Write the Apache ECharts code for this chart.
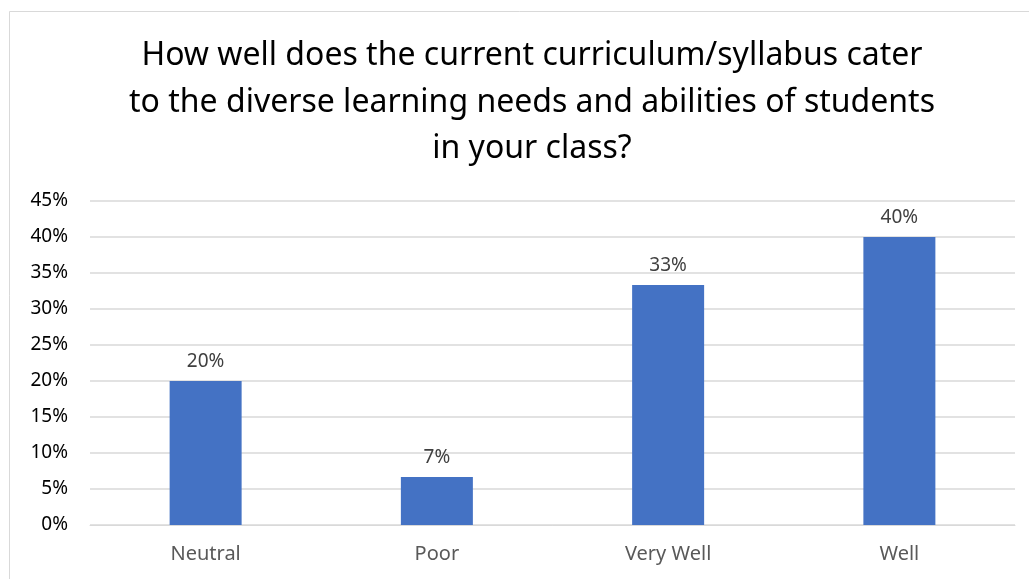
<!DOCTYPE html>
<html><head><meta charset="utf-8">
<script src="https://cdn.jsdelivr.net/npm/echarts@6/dist/echarts.min.js"></script>
<style>html,body{margin:0;padding:0;background:#fff}#c{width:1029px;height:579px}</style>
</head><body><div id="c"></div>
<script>
const titleText = "How well does the current curriculum/syllabus cater\nto the diverse learning needs and abilities of students\nin your class?";
const categories = ["Neutral", "Poor", "Very Well", "Well"];
const values = [20, 6.67, 33.33, 40];
const yTicks = { min: 0, max: 45, interval: 5 };

const chart = echarts.init(document.getElementById('c'));
chart.setOption({
  animation: false,
  backgroundColor: '#fff',
  graphic: [{
    type: 'rect', shape: { x: 9.5, y: 11.5, width: 1040, height: 600 },
    style: { fill: 'none', stroke: '#d9d9d9', lineWidth: 1 }, silent: true
  }],
  title: {
    text: titleText, left: 527, top: 28, textAlign: 'center',
    textStyle: { fontFamily: 'Noto Sans', fontSize: 32, fontWeight: 'normal', color: '#000', lineHeight: 46.5 }
  },
  grid: { left: 90, right: 14, top: 201, bottom: 54 },
  xAxis: {
    type: 'category', data: categories,
    axisLine: { lineStyle: { color: '#d9d9d9' } }, axisTick: { show: false },
    axisLabel: { color: '#595959', fontFamily: 'Noto Sans', fontSize: 20, margin: 19 }
  },
  yAxis: {
    type: 'value', min: yTicks.min, max: yTicks.max, interval: yTicks.interval,
    axisLabel: { formatter: v => v + '%', color: '#000', fontFamily: 'Noto Sans', fontSize: 19, margin: 22 },
    splitLine: { lineStyle: { color: '#d9d9d9', width: 1.5 } },
    axisLine: { show: false }, axisTick: { show: false }
  },
  series: [{
    type: 'bar', data: values, barWidth: 72,
    itemStyle: { color: '#4472c4' },
    label: { show: true, position: 'top', distance: 10, formatter: p => Math.round(p.value) + '%',
      color: '#404040', fontFamily: 'Noto Sans', fontSize: 19 }
  }]
});
</script></body></html>
